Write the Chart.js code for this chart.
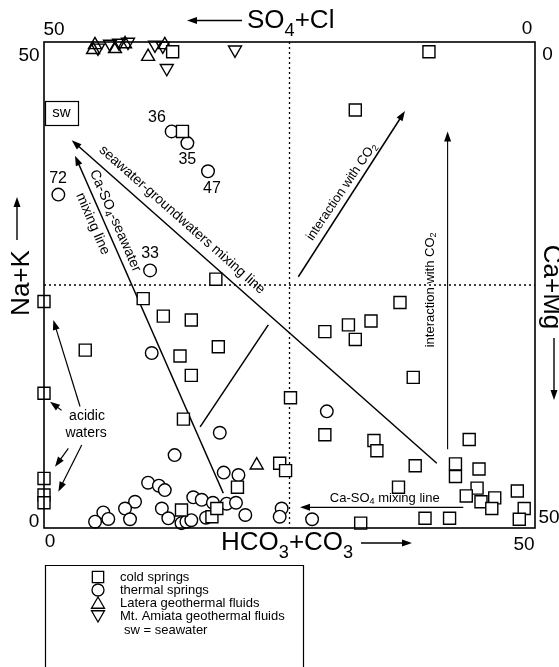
<!DOCTYPE html>
<html>
<head>
<meta charset="utf-8">
<title>Langelier-Ludwig diagram</title>
<script src="https://cdn.jsdelivr.net/npm/chart.js@4.4.1/dist/chart.umd.min.js"></script>
<style>
  html, body { margin: 0; padding: 0; background: #fff; }
  #wrap { width: 559px; height: 667px; position: relative; }
</style>
</head>
<body>
<div id="wrap"><canvas id="ludwig" width="559" height="667"></canvas></div>
<script>
// cold springs (squares)
const coldX = [13.1, 39.2, 31.7, 14.1, 17.5, 0.0, 10.1, 12.15, 15.0, 4.2, 13.85, 17.75, 15.0, 0.0, 14.2,
  36.25, 28.6, 31.0, 33.3, 31.7, 37.6, 25.1, 28.6, 33.6, 33.9, 37.8, 43.3, 41.9, 41.9, 44.3,
  36.1, 44.1, 43.0, 44.5, 45.9, 45.6, 48.2, 48.9, 48.4, 38.8, 41.3, 32.25, 24.0, 24.6,
  0.0, 0.0, 0.0, 19.7, 14.0, 17.1, 17.6];
const coldY = [49.0, 49.0, 43.0, 40.8, 25.6, 23.3, 23.6, 21.8, 21.4, 18.3, 17.7, 18.65, 15.7, 13.86, 11.2,
  23.2, 20.2, 20.9, 21.3, 19.4, 15.5, 13.4, 9.6, 9.0, 7.95, 6.4, 9.1, 6.6, 5.3, 6.07,
  4.2, 4.1, 3.3, 2.7, 3.1, 2.0, 3.8, 2.0, 0.9, 1.0, 1.0, 0.5, 6.66, 5.9,
  5.1, 3.4, 2.6, 4.2, 1.85, 1.16, 2.0];

// thermal springs (circles)
const thermalX = [1.46, 13.0, 14.6, 16.7, 10.8, 10.97, 28.8, 17.9, 13.3, 18.3, 19.8, 10.6, 11.7, 12.3,
  9.27, 8.25, 8.76, 6.04, 6.55, 5.2, 12.0, 12.66, 14.0, 14.5, 15.0, 15.2, 16.06, 17.2, 16.5,
  18.6, 19.55, 20.5, 24.2, 24.0, 27.3];
const thermalY = [34.3, 40.8, 39.6, 36.7, 26.5, 18.0, 12.0, 9.8, 7.5, 5.7, 5.45, 4.66, 4.35, 3.9,
  2.7, 2.0, 0.9, 1.6, 0.93, 0.65, 2.0, 1.0, 0.5, 0.65, 0.8, 3.16, 2.9, 2.6, 1.06,
  2.5, 2.6, 1.34, 2.0, 1.16, 0.9];

// Latera geothermal fluids (up triangles)
const lateraX = [5.19, 5.0, 7.23, 8.25, 10.6, 12.3, 21.66];
const lateraY = [49.7, 49.2, 49.3, 49.8, 48.5, 49.7, 6.46];

// Mt. Amiata geothermal fluids (down triangles)
const amiataX = [5.5, 6.72, 7.64, 8.55, 11.3, 12.1, 12.5, 19.45];
const amiataY = [49.4, 49.8, 49.9, 50.0, 49.7, 49.6, 47.3, 49.2];

// sample numbers written next to some thermal springs
const sampleNames = ['36', '35', '47', '72', '33'];
const sampleNameX = [11.5, 14.6, 17.1, 1.43, 10.8];
const sampleNameY = [42.2, 37.9, 34.9, 35.9, 28.2];

// corner tick labels of the four axes
const tickLabels = ['50', '0', '50', '0', '0', '0', '50', '50'];

const FONT = '"Liberation Sans", Arial, Helvetica, sans-serif';

// mixing / evolution trends, in diagram units
const trends = [
  { from: [40.0, 6.66], to: [2.82, 39.9], head: true, w: 1.5 },
  { from: [18.26, 3.57], to: [3.16, 38.3], head: true, w: 1.5 },
  { from: [25.9, 25.85], to: [36.76, 42.9], head: true, w: 1.5 },
  { from: [41.1, 8.1], to: [41.1, 40.8], head: true, w: 1.1 },
  { from: [22.84, 20.9], to: [15.9, 10.4], head: false, w: 1.5 },
  { from: [42.7, 2.13], to: [26.07, 2.13], head: true, w: 1.3 },
  { from: [3.67, 12.5], to: [0.95, 21.4], head: true, w: 1.2 },
  { from: [1.8, 12.1], to: [0.61, 13.0], head: true, w: 1.2 },
  { from: [2.48, 8.2], to: [1.12, 6.3], head: true, w: 1.2 },
  { from: [3.84, 8.54], to: [1.46, 3.73], head: true, w: 1.2 }
];

// text along the trends: [text, subscript?] pieces
const notes = [
  { parts: [['seawater-groundwaters mixing line']], at: [14.05, 31.7], angle: 41.5, size: 14 },
  { parts: [['Ca-SO'], ['4', 1], ['-seawater']], at: [7.25, 31.6], angle: 66.5, size: 14 },
  { parts: [['mixing line']], at: [4.95, 31.3], angle: 66.5, size: 14 },
  { parts: [['interaction with CO'], ['2', 1]], at: [30.3, 34.6], angle: -56, size: 13 },
  { parts: [['interaction with CO'], ['2', 1]], at: [39.3, 24.5], angle: -90, size: 13 },
  { parts: [['Ca-SO'], ['4', 1], [' mixing line']], at: [34.7, 3.09], angle: 0, size: 13 },
  { parts: [['acidic']], at: [4.38, 11.5], angle: 0, size: 14 },
  { parts: [['waters']], at: [4.28, 9.77], angle: 0, size: 14 }
];

function pairs(xs, ys) {
  return xs.map((x, i) => ({ x: x, y: ys[i] }));
}

function richWidth(ctx, parts, size) {
  let w = 0;
  parts.forEach(p => {
    ctx.font = (p[1] ? size * 0.7 : size) + 'px ' + FONT;
    w += ctx.measureText(p[0]).width;
  });
  return w;
}

// draws text with subscripts, x is the left edge (or centre when centred)
function drawRich(ctx, parts, x, y, size, centred) {
  let cx = centred ? x - richWidth(ctx, parts, size) / 2 : x;
  ctx.textAlign = 'left';
  parts.forEach(p => {
    const s = p[1] ? size * 0.7 : size;
    ctx.font = s + 'px ' + FONT;
    ctx.fillText(p[0], cx, p[1] ? y + size * 0.3 : y);
    cx += ctx.measureText(p[0]).width;
  });
}

function arrow(ctx, x0, y0, x1, y1, head, width) {
  const a = Math.atan2(y1 - y0, x1 - x0);
  const len = 10, half = 3.5;
  ctx.lineWidth = width;
  ctx.beginPath();
  ctx.moveTo(x0, y0);
  if (head) {
    ctx.lineTo(x1 - (len - 2) * Math.cos(a), y1 - (len - 2) * Math.sin(a));
  } else {
    ctx.lineTo(x1, y1);
  }
  ctx.stroke();
  if (!head) return;
  ctx.beginPath();
  ctx.moveTo(x1, y1);
  ctx.lineTo(x1 - len * Math.cos(a) + half * Math.sin(a), y1 - len * Math.sin(a) - half * Math.cos(a));
  ctx.lineTo(x1 - len * Math.cos(a) - half * Math.sin(a), y1 - len * Math.sin(a) + half * Math.cos(a));
  ctx.closePath();
  ctx.fill();
}

function rotatedRich(ctx, parts, x, y, size, deg) {
  ctx.save();
  ctx.translate(x, y);
  ctx.rotate(deg * Math.PI / 180);
  ctx.textBaseline = 'middle';
  drawRich(ctx, parts, 0, 0, size, true);
  ctx.restore();
}

const decor = {
  id: 'ludwigDecor',
  beforeDatasetsDraw(chart) {
    const { ctx, chartArea: a, scales: { x, y } } = chart;
    ctx.save();
    ctx.strokeStyle = '#000';
    ctx.fillStyle = '#000';

    // dotted 25 % dividers
    ctx.lineWidth = 1.3;
    ctx.setLineDash([2, 3]);
    ctx.beginPath();
    ctx.moveTo(x.getPixelForValue(25), a.top);
    ctx.lineTo(x.getPixelForValue(25), a.bottom);
    ctx.moveTo(a.left, y.getPixelForValue(25));
    ctx.lineTo(a.right, y.getPixelForValue(25));
    ctx.stroke();
    ctx.setLineDash([]);

    trends.forEach(t => {
      arrow(ctx,
        x.getPixelForValue(t.from[0]), y.getPixelForValue(t.from[1]),
        x.getPixelForValue(t.to[0]), y.getPixelForValue(t.to[1]),
        t.head, t.w);
    });

    notes.forEach(n => {
      rotatedRich(ctx, n.parts, x.getPixelForValue(n.at[0]), y.getPixelForValue(n.at[1]), n.size, n.angle);
    });

    // sample numbers
    ctx.font = '16px ' + FONT;
    ctx.textAlign = 'center';
    ctx.textBaseline = 'middle';
    sampleNames.forEach((s, i) => {
      ctx.fillText(s, x.getPixelForValue(sampleNameX[i]), y.getPixelForValue(sampleNameY[i]));
    });

    // seawater end member box
    const swx = x.getPixelForValue(1.78), swy = y.getPixelForValue(42.7);
    ctx.lineWidth = 1.2;
    ctx.strokeRect(Math.round(swx - 16.5) + 0.5, Math.round(swy - 12) + 0.5, 33, 24);
    ctx.font = '15px ' + FONT;
    ctx.fillText('sw', swx, swy);
    ctx.restore();
  },
  afterDatasetsDraw(chart) {
    const { ctx, chartArea: a } = chart;
    ctx.save();
    ctx.strokeStyle = '#000';
    ctx.fillStyle = '#000';

    // frame
    ctx.lineWidth = 1.6;
    ctx.strokeRect(a.left, a.top, a.right - a.left, a.bottom - a.top);

    // corner ticks: top-left, top-right, left-top, right-top, left-bottom, bottom-left, bottom-right, right-bottom
    const spots = [
      [a.left + 10, a.top - 12], [a.right - 8, a.top - 13.5],
      [a.left - 15, a.top + 13.5], [a.right + 12.5, a.top + 12.5],
      [a.left - 10, a.bottom - 6.5], [a.left + 6, a.bottom + 13.5],
      [a.right - 11, a.bottom + 17], [a.right + 14, a.bottom - 10.5]
    ];
    ctx.font = '19px ' + FONT;
    ctx.textAlign = 'center';
    ctx.textBaseline = 'middle';
    tickLabels.forEach((t, i) => ctx.fillText(t, spots[i][0], spots[i][1]));

    // axis titles
    ctx.textBaseline = 'alphabetic';
    drawRich(ctx, [['SO'], ['4', 1], ['+Cl']], 247, 28, 26, false);
    arrow(ctx, 242, 20.5, 187, 20.5, true, 1.4);

    drawRich(ctx, [['HCO'], ['3', 1], ['+CO'], ['3', 1]], 221, 550, 26, false);
    arrow(ctx, 361, 543, 412, 543, true, 1.4);

    rotatedRich(ctx, [['Na+K']], 22, 283, 26, -90);
    arrow(ctx, 17, 240, 17, 197, true, 1.4);

    rotatedRich(ctx, [['Ca+Mg']], 551, 287, 26, 90);
    arrow(ctx, 554, 338, 554, 400, true, 1.4);

    // legend box, open at the bottom edge of the page
    ctx.lineWidth = 1.2;
    ctx.beginPath();
    ctx.moveTo(45.5, 668);
    ctx.lineTo(45.5, 565.5);
    ctx.lineTo(303.5, 565.5);
    ctx.lineTo(303.5, 668);
    ctx.stroke();

    const rowY = [577, 590, 603, 616, 630];
    chart.data.datasets.forEach((ds, i) => {
      const tri = ds.pointStyle === 'triangle';
      ctx.fillStyle = '#fff';
      ctx.strokeStyle = '#000';
      ctx.lineWidth = 1.3;
      Chart.helpers.drawPoint(ctx, {
        pointStyle: ds.pointStyle,
        rotation: ds.pointRotation || 0,
        radius: ds.pointStyle === 'rect' ? 8 : (tri ? 7.5 : 6),
        borderWidth: 1.3
      }, 98, rowY[i] + (tri ? (ds.pointRotation ? -1.5 : 1.5) : 0));
      ctx.fillStyle = '#000';
      ctx.font = '13px ' + FONT;
      ctx.textAlign = 'left';
      ctx.textBaseline = 'middle';
      ctx.fillText(ds.label, 120, rowY[i]);
    });
    ctx.fillText('sw = seawater', 124, rowY[4]);
    ctx.restore();
  }
};

const marker = { pointBorderColor: '#000', pointBorderWidth: 1.4, clip: false, showLine: false };

new Chart(document.getElementById('ludwig'), {
  type: 'scatter',
  data: {
    datasets: [
      Object.assign({ label: 'cold springs', data: pairs(coldX, coldY), pointStyle: 'rect',
        pointRadius: 8.5, pointHoverRadius: 8.5, pointBackgroundColor: '#fff' }, marker),
      Object.assign({ label: 'thermal springs', data: pairs(thermalX, thermalY), pointStyle: 'circle',
        pointRadius: 6.3, pointHoverRadius: 6.3, pointBackgroundColor: '#fff' }, marker),
      Object.assign({ label: 'Latera geothermal fluids', data: pairs(lateraX, lateraY), pointStyle: 'triangle',
        pointRadius: 7.5, pointHoverRadius: 7.5, pointBackgroundColor: 'rgba(0,0,0,0)' }, marker),
      Object.assign({ label: 'Mt. Amiata geothermal fluids', data: pairs(amiataX, amiataY), pointStyle: 'triangle',
        pointRotation: 180, pointRadius: 7.5, pointHoverRadius: 7.5, pointBackgroundColor: 'rgba(0,0,0,0)' }, marker)
    ]
  },
  options: {
    responsive: false,
    animation: false,
    devicePixelRatio: 1,
    layout: { padding: { left: 44, right: 24, top: 42, bottom: 139 } },
    scales: {
      x: { type: 'linear', min: 0, max: 50, display: false },
      y: { type: 'linear', min: 0, max: 50, display: false }
    },
    plugins: {
      legend: { display: false },
      tooltip: { enabled: false }
    }
  },
  plugins: [decor]
});
</script>
</body>
</html>
